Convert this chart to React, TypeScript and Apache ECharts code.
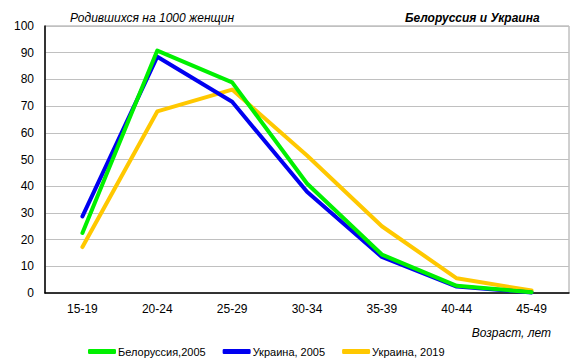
import React, { useEffect, useRef } from "react";
import * as echarts from "echarts";

const categories = ["15-19", "20-24", "25-29", "30-34", "35-39", "40-44", "45-49"];
const belarus2005 = [22.5, 90.8, 78.9, 41, 14.4, 2.7, 0.3];
const ukraine2005 = [28.7, 88.5, 71.6, 37.9, 13.5, 2.4, 0.2];
const ukraine2019 = [17.2, 68, 76.2, 51.5, 25, 5.5, 0.9];
const seriesNames = ["Белоруссия,2005", "Украина, 2005", "Украина, 2019"];
const colors = ["#00f000", "#0000f0", "#ffc800"];

export default function App() {
  const ref = useRef<HTMLDivElement>(null);
  useEffect(() => {
    if (!ref.current) return;
    const chart = echarts.init(ref.current, null, { renderer: "svg" });
    const font = "Liberation Sans, Arial, sans-serif";
    const datasets = [belarus2005, ukraine2005, ukraine2019];
    chart.setOption({
      animation: false,
      backgroundColor: "#ffffff",
      textStyle: { fontFamily: font },
      title: [
        {
          text: "Родившихся на 1000 женщин",
          left: 65,
          top: 7,
          textStyle: { fontFamily: font, fontSize: 12, fontStyle: "italic", fontWeight: "normal", color: "#000" },
        },
        {
          text: "Белоруссия и Украина",
          left: 400,
          top: 7,
          textStyle: { fontFamily: font, fontSize: 12, fontStyle: "italic", fontWeight: "bold", color: "#000" },
        },
        {
          text: "Возраст, лет",
          right: 27,
          top: 322,
          textStyle: { fontFamily: font, fontSize: 12, fontStyle: "italic", fontWeight: "normal", color: "#000" },
        },
      ],
      legend: {
        data: seriesNames,
        left: 83,
        top: 341,
        icon: "roundRect",
        itemWidth: 28,
        itemHeight: 5,
        itemGap: 17,
        textStyle: { fontFamily: font, fontSize: 11, color: "#000", padding: [0, 0, 0, -3] },
      },
      grid: { left: 45, right: 14, top: 26, bottom: 69, show: true, borderColor: "#a0a0a0", borderWidth: 1 },
      xAxis: {
        type: "category",
        data: categories,
        boundaryGap: true,
        axisLine: { lineStyle: { color: "#000", width: 1.5 } },
        axisTick: { show: false },
        axisLabel: { color: "#000", fontSize: 12, margin: 10, fontFamily: font },
      },
      yAxis: {
        type: "value",
        min: 0,
        max: 100,
        interval: 10,
        axisLine: { show: true, lineStyle: { color: "#000", width: 1.5 } },
        axisTick: { show: false },
        axisLabel: { color: "#000", fontSize: 12, margin: 11, fontFamily: font },
        splitLine: { lineStyle: { color: "#c0c0c0", width: 1 } },
      },
      series: datasets.map((d, i) => ({
        name: seriesNames[i],
        type: "line",
        data: d,
        symbol: "none",
        color: colors[i],
        lineStyle: { width: 4, color: colors[i], cap: "round", join: "round" },
        z: 3 - i,
      })),
    });
    return () => chart.dispose();
  }, []);
  return (
    <div
      ref={ref}
      style={{ position: "absolute", left: 0, top: 0, width: 583, height: 362 }}
    />
  );
}
